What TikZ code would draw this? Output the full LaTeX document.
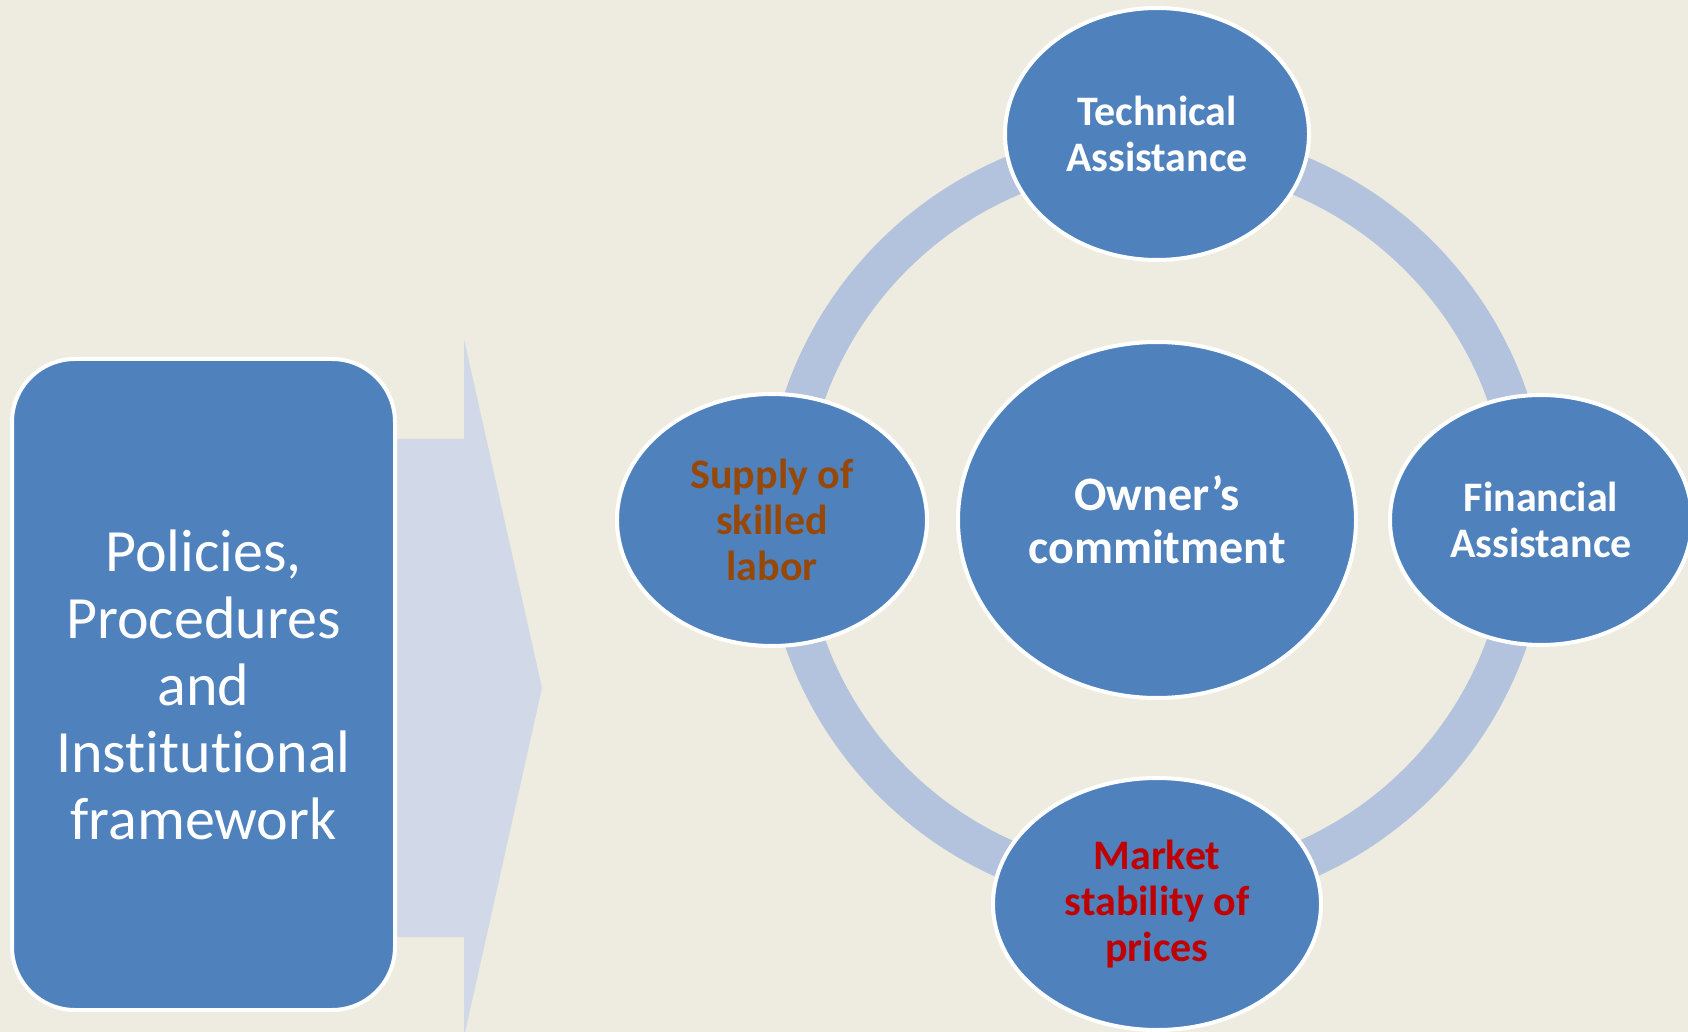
\documentclass[tikz,border=0pt]{standalone}
\usepackage{fontspec}
\setmainfont{Carlito}[Ligatures=NoCommon]
\usetikzlibrary{shapes.geometric}

\definecolor{paper}{HTML}{EEECE1}
\definecolor{cellblue}{HTML}{4F81BD}
\definecolor{ringblue}{HTML}{B3C2DD}
\definecolor{arrowblue}{HTML}{D1D9E8}
\definecolor{labelbrown}{HTML}{984806}
\definecolor{labelred}{HTML}{C00000}

\begin{document}
\begin{tikzpicture}[
  x=0.5pt, y=-0.5pt,
  frame/.style={rectangle, draw=white, fill=cellblue, line width=2pt, rounded corners=31.5pt,
    minimum width=191.5pt, minimum height=325.5pt, align=center, text=white, inner sep=0pt,
    font=\fontsize{30}{33.5}\selectfont},
  hub/.style={ellipse, draw=white, fill=cellblue, line width=2pt, inner sep=0pt,
    minimum width=199pt, minimum height=178pt, align=center, text=white,
    font=\bfseries\fontsize{24}{26.5}\selectfont},
  cell/.style={ellipse, draw=white, fill=cellblue, line width=2pt, inner sep=0pt,
    minimum width=152pt, minimum height=126pt, align=center, text=white,
    font=\bfseries\fontsize{21}{23}\selectfont},
  ring/.style={draw=ringblue, line width=20pt}
]
\useasboundingbox (0,0) rectangle (1688,1032);
\fill[paper] (0,0) rectangle (1688,1032);

% block arrow behind the framework box
\fill[arrowblue] (300,439) -- (464,439) -- (464,339) -- (542,688)
  -- (464,1037) -- (464,937) -- (300,937) -- cycle;

\node[frame] (policy) at (203.5,684.5) {Policies,\\Procedures\\and\\Institutional\\framework};

% ring through the four outer cells
\coordinate (centre) at (1157,520);
\draw[ring] (1156,519) circle [radius=186pt];

\node[hub] (owner) at (centre) {Owner’s\\commitment};
\node[cell] (tech) at (1157,134) {Technical\\Assistance};
\node[cell, minimum width=155pt] (supply) at (772,520) {\color{labelbrown}Supply of\\\color{labelbrown}skilled\\\color{labelbrown}labor};
\node[cell, minimum width=151pt, minimum height=125pt] (finance) at (1541,520) {Financial\\Assistance};
\node[cell, minimum width=164pt] (market) at (1157,904) {\color{labelred}Market\\\color{labelred}stability of\\\color{labelred}prices};
\end{tikzpicture}
\end{document}
